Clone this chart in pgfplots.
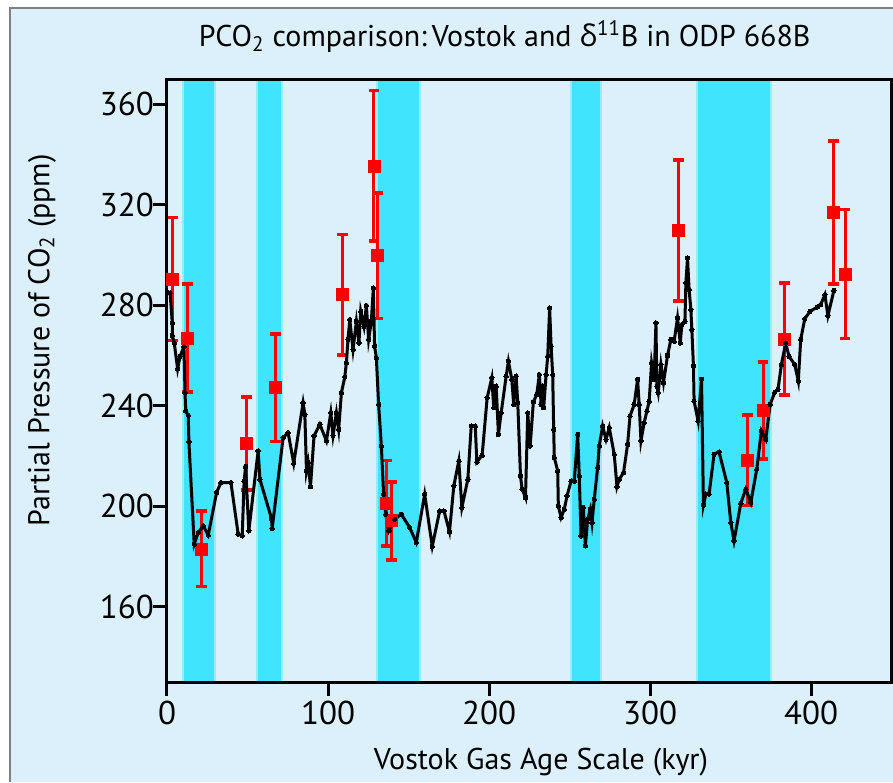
\documentclass[border=0pt]{standalone}
\usepackage{fontspec}
\setmainfont{PT Sans}
\newfontfamily\greekfont{Open Sans}
\usepackage{pgfplots}
\pgfplotsset{compat=1.18}
\definecolor{bgblue}{RGB}{219,240,250}
\definecolor{bandc}{RGB}{64,228,253}
\definecolor{bandedge}{RGB}{150,236,248}
\definecolor{framegray}{RGB}{128,128,128}
\newcommand{\lbl}{\fontsize{15pt}{17pt}\selectfont}
\newcommand{\tkl}{\fontsize{16.5pt}{18pt}\selectfont}
\begin{document}
\begin{tikzpicture}
\useasboundingbox (-83.5pt,-50pt) rectangle (363pt,341pt);
\fill[white] (-83.5pt,-50pt) rectangle (363pt,341pt);
\fill[bgblue] (-78.5pt,-50pt) rectangle (363pt,337pt);
\draw[framegray, line width=0.6pt] (-78.5pt,-50pt) -- (-78.5pt,337pt) -- (363pt,337pt);
\begin{axis}[
  at={(0,0)}, anchor=south west,
  scale only axis, width=362.35pt, height=301.35pt,
  xmin=0, xmax=450, ymin=130, ymax=370,
  axis on top,
  axis line style={line width=1.5pt},
  xtick={0,100,200,300,400},
  ytick={160,200,240,280,320,360},
  xtick pos=bottom, ytick pos=left,
  tick align=outside,
  major tick length=7pt,
  tick style={line width=1.5pt, black},
  ticklabel style={font=\tkl},
  yticklabel style={xshift=4pt},
  xticklabel style={yshift=1pt},
  /pgf/number format/assume math mode=true,
  title={PCO\textsubscript{2} comparison:\,Vostok and {\greekfont δ}\textsuperscript{11}B in ODP 668B},
  title style={font=\lbl, at={(axis description cs:0.466,1.035)}, anchor=base},
  xlabel={Vostok Gas Age Scale (kyr)},
  xlabel style={font=\lbl, at={(axis description cs:0.516,-0.1444)}, anchor=base},
  ylabel={Partial Pressure of CO\textsubscript{2} (ppm)},
  ylabel style={font=\lbl, at={(axis description cs:-0.1725,0.567)}, anchor=center, rotate=0},
]
% glacial bands
\addplot[fill=bandc, draw=bandedge, line width=1pt] coordinates {(10,130)(10,370)(30,370)(30,130)(10,130)};
\addplot[fill=bandc, draw=bandedge, line width=1pt] coordinates {(55.8,130)(55.8,370)(71.1,370)(71.1,130)(55.8,130)};
\addplot[fill=bandc, draw=bandedge, line width=1pt] coordinates {(130.4,130)(130.4,370)(157,370)(157,130)(130.4,130)};
\addplot[fill=bandc, draw=bandedge, line width=1pt] coordinates {(251,130)(251,370)(269.2,370)(269.2,130)(251,130)};
\addplot[fill=bandc, draw=bandedge, line width=1pt] coordinates {(329.4,130)(329.4,370)(375.2,370)(375.2,130)(329.4,130)};

% delta 11B estimates
\addplot[red, only marks, mark=square*, mark size=3pt,
  error bars/.cd, y dir=both, y explicit,
  error bar style={line width=1.5pt, red},
  error mark options={rotate=90, mark size=2.7pt, line width=1.8pt, red}]
  coordinates {
  (3.5,290.5) +- (0,24.5)
  (12.6,267) +- (0,21.6)
  (21.5,183) +- (0,15)
  (49.4,225) +- (0,18.5)
  (67.4,247.2) +- (0,21.4)
  (108.9,284.2) +- (0,24)
  (128.5,335.5) +- (0,30)
  (130.6,299.7) +- (0,25)
  (136.2,201.2) +- (0,17)
  (139.3,194.2) +- (0,15.5)
  (317.6,309.8) +- (0,28)
  (360.4,218.3) +- (0,18)
  (370.1,238.1) +- (0,19.3)
  (383.6,266.6) +- (0,22.4)
  (414.1,317) +- (0,28.5)
  (421,292.5) +- (0,25.7)
  };

% Vostok CO2
\addplot[black, line width=1.5pt, mark=*, mark size=1.1pt, mark options={line width=0pt}] coordinates {
(1.0,285)(1.9,284.9)(3.3,273)(3.3,268)(4.5,265)(6.6,254.7)(8.1,259.7)(10.5,263.5)
(11.2,245.2)(11.6,237.9)(13.2,236.2)(13.6,225.6)(16.9,184.9)(19.4,189.5)(22.5,192.2)
(25.6,188.5)(30.8,205.5)(33.5,209.4)(39.7,209.4)(44.2,188.9)(46.7,188.2)(47.9,210)
(48.8,215.8)(50.8,190.2)(56.6,222)(57.7,210.7)(64.9,195.1)(65.3,191.1)(72.1,227.3)
(75.2,229.3)(78.7,217.1)(84.5,241.2)(85.6,236.5)(86.6,214)(87.6,217.4)(89.1,207.8)
(91.3,228)(94.9,232.6)(99.0,226)(101.7,237.2)(103.1,228.2)(105.2,237.2)(106.6,230.6)
(108.3,245.2)(110.4,251.5)(111.4,257.1)(112.4,266.4)(113.5,274.3)(115.5,262.4)
(117.6,273.6)(119.2,265)(120.3,277.6)(122.3,271.6)(123.8,279.9)(125.2,266.4)
(126.9,273.6)(128.1,286.9)(128.9,263.7)(130,259.1)(131.4,240.5)(133.1,224)
(134.5,204.8)(135.8,196.8)(137.8,190.2)(141.4,194.8)(145.5,196.8)(150.7,191.5)
(154.8,185.6)(160,204.8)(164.7,184)(169.3,198.1)(172,198.1)(175.4,189.8)(178.1,208.1)
(181.2,218)(183.1,199.5)(186.8,210.7)(188.9,231.9)(191.4,231.9)(192.4,217.6)
(195.7,220.3)(198.8,243.2)(201.7,251.1)(202.9,239.2)(204.4,247.8)(205.8,228.6)
(207.5,237.2)(210.6,251.8)(212,257.7)(214.1,250.5)(215.3,240.5)(216.8,251.8)
(217.8,241.2)(219.5,212)(220.5,206.8)(222.6,203.5)(224,237.2)(225.5,224)(227.5,241.5)
(229.6,244.5)(231.2,252.4)(232.3,240.5)(233.3,247.8)(233.9,239.2)(235.4,252.4)
(236.4,259.7)(237.6,278.9)(238.5,263.7)(239.5,252.4)(240.1,230.6)(240.5,219.4)
(242.6,214)(243,200.1)(244.7,195.5)(246.7,198.8)(248.4,204.1)(250.9,210)(252.9,210)
(255,228.6)(256,212)(257.1,188.2)(258.5,199.5)(259.8,184.2)(261.2,194.8)(262.9,198.8)
(263.9,193.5)(265.3,202.8)(267.4,215.4)(268.4,224)(270.5,231.9)(272.6,226.6)
(274.6,231.3)(277.7,220.7)(279.4,207.8)(280.8,210.7)(283.5,213.4)(286,224.6)
(287.5,235.9)(290.1,240.5)(292.2,250.5)(293.2,240.5)(294.3,226)(296.3,233.3)
(298,237.9)(299.4,241.8)(300.9,257.1)(302.5,250.5)(303.6,273)(304.2,247.8)(305,245.2)
(306.7,256.4)(308.3,249.2)(310.8,260)(312.9,266.4)(314.9,265.7)(317,275)(318.7,265)
(319.7,272.3)(321.6,273.6)(322.2,288.9)(323.2,298.8)(324.2,286.2)(325.3,278.3)
(325.9,270.3)(326.9,255.8)(327.3,241.8)(329.8,233.9)(331.9,250.5)(333.1,200.4)
(334.6,204.8)(336.6,204.8)(339.7,220.7)(342.8,221.6)(347.6,209.4)(350.1,193.4)
(352.1,186.2)(356.3,201.2)(359.4,206.8)(362.5,201.5)(366.2,214.7)(369.1,230)
(371.8,226.6)(374.5,240.5)(377.4,245.4)(379.4,246.5)(381.5,256.4)(384.2,265)
(386.2,259.7)(389.8,256.4)(392,249.8)(393.5,266.4)(396,274.6)(399.3,277.6)
(403.8,279.3)(405.9,280.3)(408.5,284.2)(410.4,275.9)(414.1,285.9)
};
\end{axis}
\end{tikzpicture}
\end{document}
